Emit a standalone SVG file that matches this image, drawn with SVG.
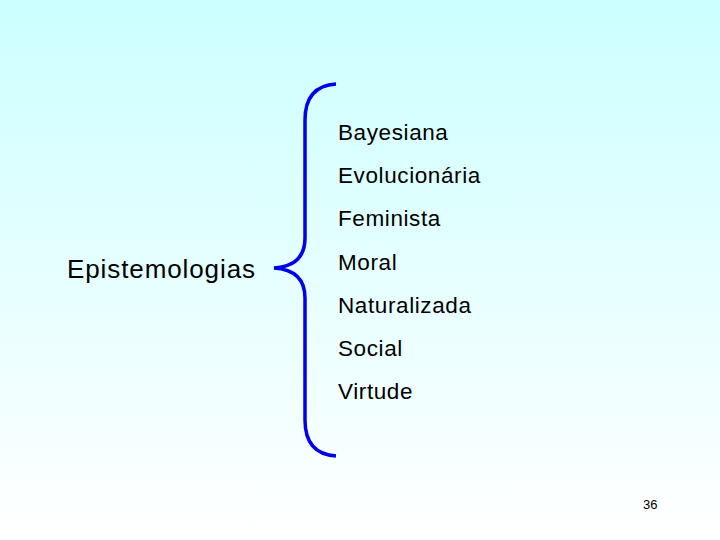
<svg xmlns="http://www.w3.org/2000/svg" width="720" height="540" viewBox="0 0 720 540">
<defs><linearGradient id="bg" x1="0" y1="0" x2="0" y2="1"><stop offset="0" stop-color="#ccffff"/><stop offset="1" stop-color="#ffffff"/></linearGradient></defs>
<style>.t{font-family:"Liberation Sans",Arial,sans-serif;font-size:22.5px;fill:#000;letter-spacing:0.6px}</style>
<rect width="720" height="540" fill="url(#bg)"/>
<g id="brace"><path d="M336,84 Q305,86 305,120 L305,238 Q305,266 274,268 Q305,270 305,298 L305,420 Q305,454 336,456" fill="none" stroke="#0000ee" stroke-width="3.5"/></g>
<g id="root"><text x="67" y="278" style="font-family:'Liberation Sans',Arial,sans-serif;font-size:26px;letter-spacing:0.9px">Epistemologias</text></g>
<g id="items">
<text class="t" x="338" y="140">Bayesiana</text>
<text class="t" x="338" y="183">Evolucionária</text>
<text class="t" x="338" y="226">Feminista</text>
<text class="t" x="338" y="270">Moral</text>
<text class="t" x="338" y="313">Naturalizada</text>
<text class="t" x="338" y="356">Social</text>
<text class="t" x="338" y="399">Virtude</text>
</g>
<g id="connectors"></g>
<text x="643" y="509" style="font-family:'Liberation Sans',Arial,sans-serif;font-size:13px">36</text>
</svg>
